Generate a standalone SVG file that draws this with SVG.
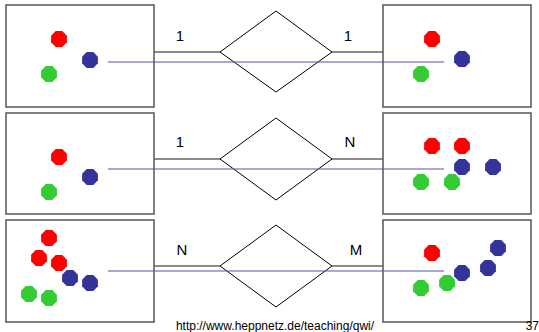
<svg xmlns="http://www.w3.org/2000/svg" xmlns:xlink="http://www.w3.org/1999/xlink" width="539" height="332" viewBox="0 0 539 332">
<style>
.box{fill:#fff;stroke:#555;stroke-width:1.5}
.dia{fill:#fff;stroke:#000;stroke-width:1}
.link{stroke:#666;stroke-width:1.5;fill:none}
.blue{stroke:#5555aa;stroke-width:1.2;fill:none}
.lbl{font-family:"Liberation Sans",Arial,sans-serif;font-size:15px;fill:#000}
.foot{font-family:"Liberation Sans",Arial,sans-serif;font-size:12px;fill:#000}
.r{fill:#ff0000}.b{fill:#333399}.g{fill:#33cc33}
</style>
<defs>
<polygon id="oct" points="7.9,3.3 3.3,7.9 -3.3,7.9 -7.9,3.3 -7.9,-3.3 -3.3,-7.9 3.3,-7.9 7.9,-3.3"/>
</defs>
<rect width="539" height="332" fill="#fff"/>
<g id="row1-left">
<rect class="box" x="6" y="5" width="148" height="102"/>
<use xlink:href="#oct" class="r" x="59" y="39"/>
<use xlink:href="#oct" class="b" x="90" y="60"/>
<use xlink:href="#oct" class="g" x="49" y="74"/>
</g>
<g id="row1-rel"><polygon class="dia" points="220,52 276,11 332,52 276,92"/></g>
<g id="row1-right">
<rect class="box" x="383" y="5" width="148" height="102"/>
<use xlink:href="#oct" class="r" x="432" y="39"/>
<use xlink:href="#oct" class="b" x="462" y="59"/>
<use xlink:href="#oct" class="g" x="421" y="74"/>
</g>
<g id="row2-left">
<rect class="box" x="6" y="113" width="148" height="101"/>
<use xlink:href="#oct" class="r" x="59" y="157"/>
<use xlink:href="#oct" class="b" x="90" y="177"/>
<use xlink:href="#oct" class="g" x="49" y="192"/>
</g>
<g id="row2-rel"><polygon class="dia" points="220,159 276,118 332,159 276,200"/></g>
<g id="row2-right">
<rect class="box" x="383" y="113" width="148" height="101"/>
<use xlink:href="#oct" class="r" x="432" y="146"/>
<use xlink:href="#oct" class="r" x="462" y="146"/>
<use xlink:href="#oct" class="b" x="462" y="167"/>
<use xlink:href="#oct" class="b" x="493" y="167"/>
<use xlink:href="#oct" class="g" x="421" y="182"/>
<use xlink:href="#oct" class="g" x="452" y="182"/>
</g>
<g id="row3-left">
<rect class="box" x="6" y="220" width="148" height="102"/>
<use xlink:href="#oct" class="r" x="49" y="238"/>
<use xlink:href="#oct" class="r" x="39" y="258"/>
<use xlink:href="#oct" class="r" x="59" y="263"/>
<use xlink:href="#oct" class="b" x="70" y="278"/>
<use xlink:href="#oct" class="b" x="90" y="283"/>
<use xlink:href="#oct" class="g" x="29" y="294"/>
<use xlink:href="#oct" class="g" x="49" y="298"/>
</g>
<g id="row3-rel"><polygon class="dia" points="220,266 276,225 332,266 276,307"/></g>
<g id="row3-right">
<rect class="box" x="383" y="220" width="148" height="102"/>
<use xlink:href="#oct" class="r" x="432" y="253"/>
<use xlink:href="#oct" class="b" x="498" y="248"/>
<use xlink:href="#oct" class="b" x="488" y="268"/>
<use xlink:href="#oct" class="b" x="462" y="273"/>
<use xlink:href="#oct" class="g" x="447" y="283"/>
<use xlink:href="#oct" class="g" x="421" y="288"/>
</g>
<g id="connectors">
<path class="link" d="M154,52H220M332,52H383M154,159H220M332,159H383M154,266H220M332,266H383"/>
<path class="blue" d="M108,62H444M108,169H444M108,271H444"/>
</g>
<g id="labels">
<text class="lbl" x="180" y="41" text-anchor="middle">1</text>
<text class="lbl" x="348" y="41" text-anchor="middle">1</text>
<text class="lbl" x="180" y="147" text-anchor="middle">1</text>
<text class="lbl" x="350" y="147" text-anchor="middle">N</text>
<text class="lbl" x="182" y="255" text-anchor="middle">N</text>
<text class="lbl" x="356" y="255" text-anchor="middle">M</text>
<text class="foot" x="275" y="330" text-anchor="middle">http://www.heppnetz.de/teaching/qwi/</text>
<text class="foot" x="539" y="330" text-anchor="end">37</text>
</g>
</svg>
